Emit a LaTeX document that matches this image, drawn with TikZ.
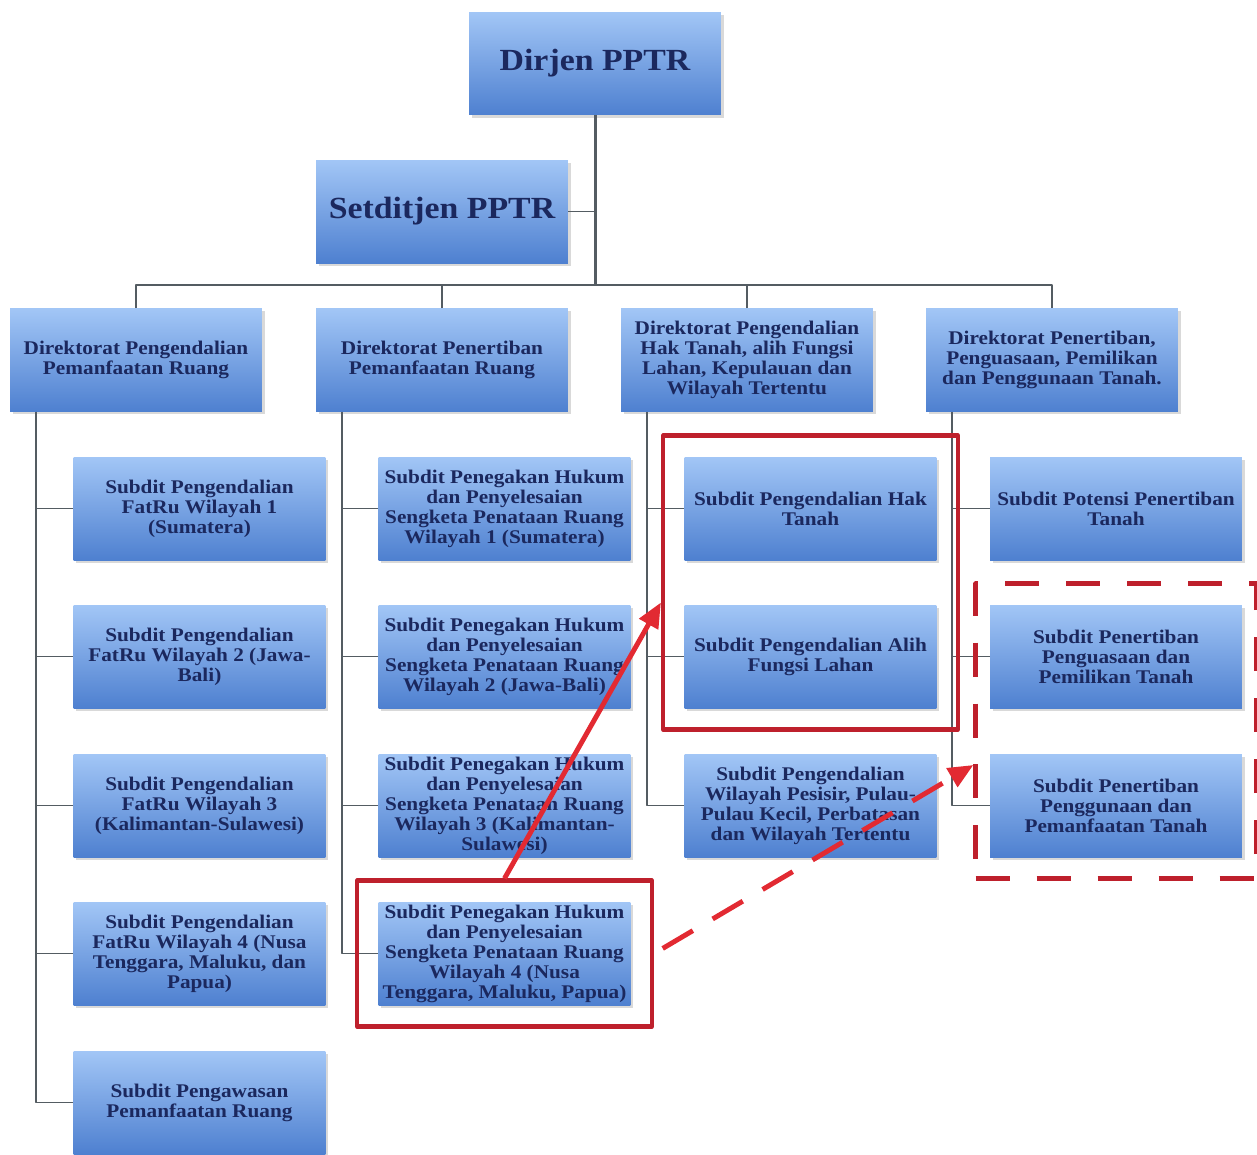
\documentclass[tikz,border=0pt]{standalone}
\usepackage{fontspec}
\setmainfont{Liberation Serif}[FakeStretch=1.1]
\usetikzlibrary{arrows.meta,shadows,fit}
\definecolor{navy}{RGB}{27,40,94}
\definecolor{boxtop}{RGB}{162,198,246}
\definecolor{boxbot}{RGB}{78,128,208}
\definecolor{garis}{RGB}{84,92,98}
\definecolor{merah}{RGB}{190,32,44}
\definecolor{merahterang}{RGB}{226,42,50}
\begin{document}
\begin{tikzpicture}[x=0.02cm,y=-0.02cm,line join=round]
\tikzset{kotak/.style={top color=boxtop,bottom color=boxbot,text=navy,align=center,
  minimum width=5.04cm,minimum height=2.06cm,inner sep=0pt,
  drop shadow={opacity=0.3,shadow xshift=1.5pt,shadow yshift=-1.5pt},
  font=\bfseries\fontsize{11}{11.4}\selectfont},
  judul/.style={kotak,font=\bfseries\fontsize{17.5}{20}\selectfont},
  hubung/.style={draw=garis,line width=1.1pt},
  bingkai/.style={draw=merah,line width=2.6pt,inner sep=0.42cm},
  panah/.style={draw=merahterang,line width=2.8pt,-{Triangle[length=0.5cm,width=0.42cm]}}}
\useasboundingbox (0,0) rectangle (1257,1154);
\node[judul] (dirjen) at (595,63.5) {Dirjen PPTR};
\node[judul] (setditjen) at (442,211.5) {Setditjen PPTR};
\node[kotak] (d1) at (136,360) {Direktorat Pengendalian\\Pemanfaatan Ruang};
\node[kotak] (d2) at (442,360) {Direktorat Penertiban\\Pemanfaatan Ruang};
\node[kotak] (d3) at (747,360) {Direktorat Pengendalian\\Hak Tanah, alih Fungsi\\Lahan, Kepulauan dan\\Wilayah Tertentu};
\node[kotak] (d4) at (1052,360) {Direktorat Penertiban,\\Penguasaan, Pemilikan\\dan Penggunaan Tanah.};
\foreach \nm/\y/\txt in {s11/508.5/{Subdit Pengendalian\\FatRu Wilayah 1\\(Sumatera)},
  s12/656.5/{Subdit Pengendalian\\FatRu Wilayah 2 (Jawa-\\Bali)},
  s13/805.5/{Subdit Pengendalian\\FatRu Wilayah 3\\(Kalimantan-Sulawesi)},
  s14/953.5/{Subdit Pengendalian\\FatRu Wilayah 4 (Nusa\\Tenggara, Maluku, dan\\Papua)},
  s15/1102.5/{Subdit Pengawasan\\Pemanfaatan Ruang}}
  {\node[kotak] (\nm) at (199.5,\y) {\txt};}
\foreach \nm/\y/\txt in {s21/508.5/{Wilayah 1 (Sumatera)},
  s22/656.5/{Wilayah 2 (Jawa-Bali)},
  s23/805.5/{Wilayah 3 (Kalimantan-\\Sulawesi)},
  s24/953.5/{Wilayah 4 (Nusa\\Tenggara, Maluku, Papua)}}
  {\node[kotak] (\nm) at (504.5,\y) {Subdit Penegakan Hukum\\dan Penyelesaian\\Sengketa Penataan Ruang\\\txt};}
\node[kotak] (s31) at (810.5,508.5) {Subdit Pengendalian Hak\\Tanah};
\node[kotak] (s32) at (810.5,656.5) {Subdit Pengendalian Alih\\Fungsi Lahan};
\node[kotak] (s33) at (810.5,805.5) {Subdit Pengendalian\\Wilayah Pesisir, Pulau-\\Pulau Kecil, Perbatasan\\dan Wilayah Tertentu};
\node[kotak] (s41) at (1116,508.5) {Subdit Potensi Penertiban\\Tanah};
\node[kotak] (s42) at (1116,656.5) {Subdit Penertiban\\Penguasaan dan\\Pemilikan Tanah};
\node[kotak] (s43) at (1116,805.5) {Subdit Penertiban\\Penggunaan dan\\Pemanfaatan Tanah};
\coordinate (bus) at (595,285);
\draw[hubung,line width=1.7pt] (dirjen.south) -- (bus);
\draw[hubung] (setditjen.east) -- (setditjen.east -| bus);
\draw[hubung,line width=1.5pt] (d1.north) |- (bus) -| (d4.north);
\draw[hubung] (d2.north) -- (d2.north |- bus);
\draw[hubung] (d3.north) -- (d3.north |- bus);
\foreach \s in {s11,s12,s13,s14,s15}{\draw[hubung] ([xshift=-2cm]d1.south) |- (\s.west);}
\foreach \s in {s21,s22,s23,s24}{\draw[hubung] ([xshift=-2cm]d2.south) |- (\s.west);}
\foreach \s in {s31,s32,s33}{\draw[hubung] ([xshift=-2cm]d3.south) |- (\s.west);}
\foreach \s in {s41,s42,s43}{\draw[hubung] ([xshift=-2cm]d4.south) |- (\s.west);}
\node[bingkai,fit=(s31)(s32)] (frma) {};
\node[bingkai,fit=(s24)] (frmb) {};
\node[bingkai,fit=(s42)(s43),inner xsep=0.28cm,dash pattern=on 0.68cm off 0.54cm] (frmc) {};
\draw[panah] (frmb.north) -- ([yshift=-0.4cm]frma.west);
\draw[panah,dash pattern=on 0.7cm off 0.46cm,shorten <=0.2cm] (frmb.east) -- ([yshift=-0.68cm]frmc.west);
\end{tikzpicture}
\end{document}
